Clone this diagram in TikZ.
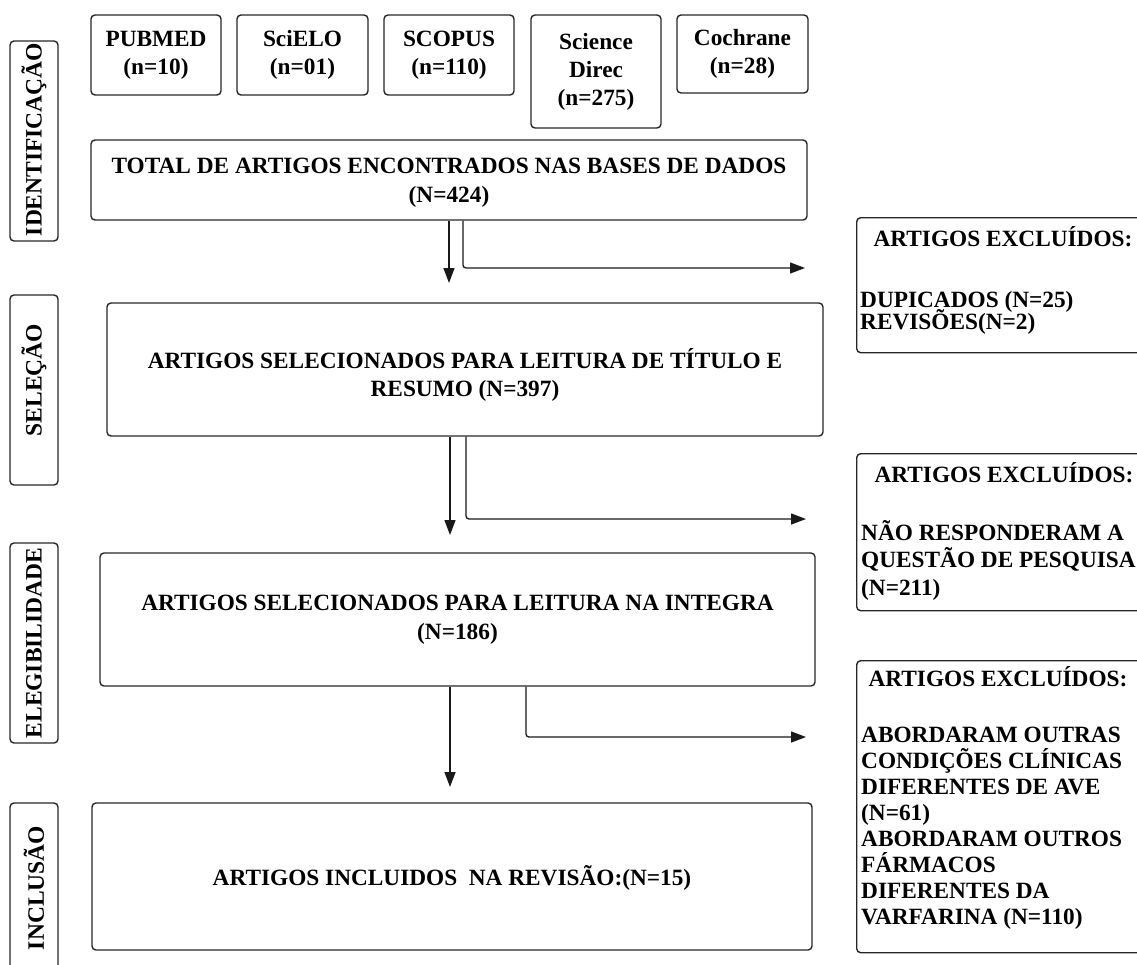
\documentclass[tikz,border=0pt]{standalone}
\usepackage{fontspec}
\setmainfont{Liberation Serif}
\usetikzlibrary{arrows.meta}
\begin{document}
\begin{tikzpicture}[x=1pt,y=-1pt,
  bx/.style={draw=black!85, line width=1.4pt, rounded corners=4pt, inner sep=0pt,
    align=center, font=\bfseries\fontsize{23.3}{28}\selectfont},
  plainbx/.style={draw=black!85, line width=1.4pt, rounded corners=4pt, inner sep=0pt},
  maintxt/.style={inner sep=0pt, align=center, font=\bfseries\fontsize{23.3}{28.5}\selectfont},
  sidetxt/.style={rotate=90, inner sep=0pt, font=\bfseries\fontsize{23.5}{28}\selectfont},
  txt/.style={inner sep=0pt, font=\bfseries\fontsize{23.3}{28}\selectfont},
  arr/.style={draw=black!90, line width=1.3pt, rounded corners=3pt,
    -{Triangle[length=15pt,width=11pt]}}]
\useasboundingbox (0,0) rectangle (1137,964);
\clip (0,0) rectangle (1137,964);

% side labels
\node[plainbx, minimum width=48pt, minimum height=200pt] (s1) at (34,141) {};
\node[sidetxt] (s1t) at (34,139.5) {IDENTIFICAÇÃO};
\node[plainbx, minimum width=48pt, minimum height=190pt] (s2) at (34,390) {};
\node[sidetxt] (s2t) at (34,380) {SELEÇÃO};
\node[plainbx, minimum width=48pt, minimum height=200pt] (s3) at (34,643) {};
\node[sidetxt] (s3t) at (34,643) {ELEGIBILIDADE};
\node[plainbx, minimum width=48pt, minimum height=250pt] (s4) at (34,928) {};
\node[sidetxt] (s4t) at (34,888) {INCLUSÃO};

% databases
\node[bx, minimum width=130pt, minimum height=80pt] (pub) at (156,55) {PUBMED\\(n=10)};
\node[bx, minimum width=131pt, minimum height=80pt] (sci) at (302.5,55) {SciELO\\(n=01)};
\node[bx, minimum width=130pt, minimum height=80pt] (sco) at (449,55) {SCOPUS\\(n=110)};
\node[bx, minimum width=130pt, minimum height=113pt] (sd) at (596,71.5) {Science\\Direc\\(n=275)};
\node[bx, minimum width=131pt, minimum height=78pt] (coc) at (742.5,54) {Cochrane\\(n=28)};

% main boxes
\node[plainbx, minimum width=716pt, minimum height=80pt] (tot) at (449,180) {};
\node[maintxt] (tott) at (449,183)
  {TOTAL DE ARTIGOS ENCONTRADOS NAS BASES DE DADOS\\(N=424)};
\node[plainbx, minimum width=716pt, minimum height=133pt] (sel) at (465,369.5) {};
\node[maintxt] (selt) at (465,375)
  {ARTIGOS SELECIONADOS PARA LEITURA DE TÍTULO E\\RESUMO (N=397)};
\node[plainbx, minimum width=715pt, minimum height=133pt] (el) at (457.5,619.5) {};
\node[maintxt] (elt) at (457.5,620)
  {ARTIGOS SELECIONADOS PARA LEITURA NA INTEGRA\\(N=186)};
\node[plainbx, minimum width=720pt, minimum height=147pt] (inc) at (452,876.5) {};
\node[maintxt] (inct) at (452,878)
  {ARTIGOS INCLUIDOS\hspace{0.5em}NA REVISÃO:(N=15)};

% exclusion boxes
\node[plainbx, minimum width=320pt, minimum height=135pt, anchor=north west] (x1) at (856,217) {};
\node[plainbx, minimum width=320pt, minimum height=157pt, anchor=north west] (x2) at (856,453) {};
\node[plainbx, minimum width=320pt, minimum height=292pt, anchor=north west] (x3) at (856,660) {};

\node[txt, anchor=base] (x1t) at (1003,246.1) {ARTIGOS EXCLUÍDOS:};
\node[txt, anchor=base west] (x1a) at (860,307.6) {DUPICADOS (N=25)};
\node[txt, anchor=base west] (x1b) at (860,329.6) {REVISÕES(N=2)};

\node[txt, anchor=base] (x2t) at (1004,482.1) {ARTIGOS EXCLUÍDOS:};
\node[txt, anchor=base west] (x2a) at (861,540.6) {NÃO RESPONDERAM A};
\node[txt, anchor=base west] (x2b) at (861,567.6) {QUESTÃO DE PESQUISA};
\node[txt, anchor=base west] (x2c) at (861,595.6) {(N=211)};

\node[txt, anchor=base] (x3t) at (998,686.1) {ARTIGOS EXCLUÍDOS:};
\foreach \t [count=\i] in {ABORDARAM OUTRAS, CONDIÇÕES CLÍNICAS, DIFERENTES DE AVE, (N=61),
  ABORDARAM OUTROS, FÁRMACOS, DIFERENTES DA, VARFARINA (N=110)}
  \node[txt, anchor=base west] (x3l\i) at ({861},{742.6+26*(\i-1)}) {\t};

% connectors
\coordinate (a1) at (449,283);
\coordinate (b1) at (805,268);
\draw[arr] (tot.south) -- (a1);
\draw[arr] ([xshift=14pt]tot.south) |- (b1);

\coordinate (a2) at (450,535);
\coordinate (b2) at (806,519);
\draw[arr] ([xshift=-15pt]sel.south) -- (a2);
\draw[arr] ([xshift=1pt]sel.south) |- (b2);

\coordinate (a3) at (450,787);
\coordinate (b3) at (806,737);
\draw[arr] ([xshift=-7.5pt]el.south) -- (a3);
\draw[arr] ([xshift=68.5pt]el.south) |- (b3);
\end{tikzpicture}
\end{document}
